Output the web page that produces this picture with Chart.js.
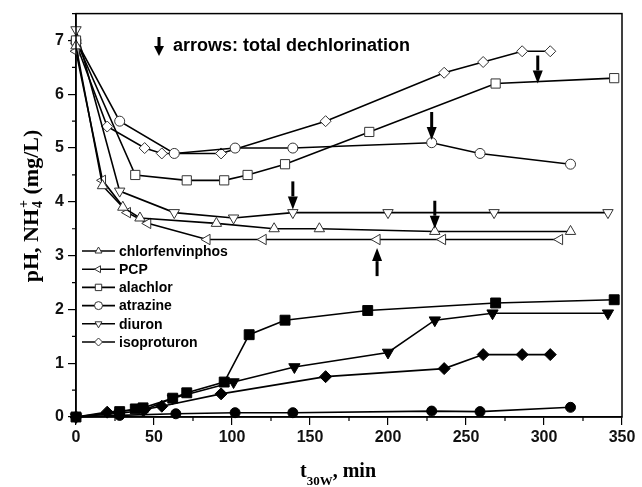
<!DOCTYPE html>
<html>
<head>
<meta charset="utf-8">
<script src="https://cdn.jsdelivr.net/npm/chart.js@4/dist/chart.umd.min.js"></script>
<style>
  html, body { margin: 0; padding: 0; background: #fff; }
  #wrap { width: 642px; height: 487px; }
</style>
</head>
<body>
<div id="wrap"><canvas id="chart" width="642" height="487"></canvas></div>
<script>
// pH, open symbols (time in min)
const chlorfenT = [0, 17, 30, 41, 90, 127, 156, 230, 317];
const chlorfenPH = [6.9, 4.3, 3.9, 3.7, 3.6, 3.5, 3.5, 3.45, 3.45];
const pcpT = [0, 17, 33, 46, 84, 120, 193, 235, 310];
const pcpPH = [6.8, 4.4, 3.8, 3.6, 3.3, 3.3, 3.3, 3.3, 3.3];
const alachlorT = [0, 38, 71, 95, 110, 134, 188, 269, 345];
const alachlorPH = [7.0, 4.5, 4.4, 4.4, 4.5, 4.7, 5.3, 6.2, 6.3];
const atrazineT = [0, 28, 63, 102, 139, 228, 259, 317];
const atrazinePH = [7.0, 5.5, 4.9, 5.0, 5.0, 5.1, 4.9, 4.7];
const diuronT = [0, 28, 63, 101, 139, 200, 268, 341];
const diuronPH = [7.2, 4.2, 3.8, 3.7, 3.8, 3.8, 3.8, 3.8];
const isoprotT = [0, 20, 44, 55, 93, 160, 236, 261, 286, 304];
const isoprotPH = [6.95, 5.4, 5.0, 4.9, 4.9, 5.5, 6.4, 6.6, 6.8, 6.8];

// NH4+ (mg/L), filled symbols
const alachlorNT = [0, 28, 38, 43, 62, 71, 95, 111, 134, 187, 269, 345];
const alachlorNH4 = [0, 0.1, 0.15, 0.17, 0.35, 0.45, 0.65, 1.53, 1.8, 1.98, 2.12, 2.18];
const diuronNT = [0, 28, 43, 62, 101, 140, 200, 230, 267, 341];
const diuronNH4 = [0, 0.07, 0.12, 0.35, 0.65, 0.93, 1.2, 1.8, 1.93, 1.93];
const isoprotNT = [0, 20, 44, 55, 93, 160, 236, 261, 286, 304];
const isoprotNH4 = [0, 0.09, 0.14, 0.2, 0.43, 0.75, 0.9, 1.16, 1.16, 1.16];
const atrazineNT = [0, 28, 64, 102, 139, 228, 259, 317];
const atrazineNH4 = [0, 0.03, 0.06, 0.08, 0.08, 0.11, 0.1, 0.18];

// total dechlorination arrows: time, value at the tip, direction
const arrowT = [296, 228, 139, 230, 193];
const arrowTip = [6.2, 5.15, 3.86, 3.5, 3.14];
const arrowUp = [false, false, false, false, true];

const xTicks = [0, 50, 100, 150, 200, 250, 300, 350];
const yTicks = [0, 1, 2, 3, 4, 5, 6, 7];

const legendNames = ['chlorfenvinphos', 'PCP', 'alachlor', 'atrazine', 'diuron', 'isoproturon'];

const SANS = '"Liberation Sans", Arial, sans-serif';
const SERIF = '"Liberation Serif", "Times New Roman", serif';

function pts(t, v) {
  return t.map((x, i) => ({ x: x, y: v[i] }));
}

function series(label, t, v, style, radius, rot, filled) {
  return {
    label: label,
    data: pts(t, v),
    showLine: true,
    borderColor: '#000',
    borderWidth: 1.6,
    pointStyle: style,
    pointRadius: radius,
    pointHoverRadius: radius,
    pointRotation: rot,
    pointBorderWidth: 1,
    pointBorderColor: filled ? '#000' : '#333',
    pointBackgroundColor: filled ? '#000' : '#fff',
    clip: false
  };
}

const datasets = [
  series('chlorfenvinphos', chlorfenT, chlorfenPH, 'triangle', 6, 0, false),
  series('PCP', pcpT, pcpPH, 'triangle', 6, 270, false),
  series('alachlor', alachlorT, alachlorPH, 'rect', 6.5, 0, false),
  series('atrazine', atrazineT, atrazinePH, 'circle', 5, 0, false),
  series('diuron', diuronT, diuronPH, 'triangle', 6, 180, false),
  series('isoproturon', isoprotT, isoprotPH, 'rectRot', 5.5, 0, false),
  series('alachlor NH4', alachlorNT, alachlorNH4, 'rect', 7, 0, true),
  series('diuron NH4', diuronNT, diuronNH4, 'triangle', 6.5, 180, true),
  series('isoproturon NH4', isoprotNT, isoprotNH4, 'rectRot', 6, 0, true),
  series('atrazine NH4', atrazineNT, atrazineNH4, 'circle', 5, 0, true)
];

// small legend marker
function marker(ctx, style, rot, x, y, r) {
  ctx.beginPath();
  if (style === 'circle') {
    ctx.arc(x, y, r, 0, Math.PI * 2);
  } else if (style === 'rect') {
    ctx.rect(x - r * 0.8, y - r * 0.8, r * 1.6, r * 1.6);
  } else if (style === 'rectRot') {
    ctx.moveTo(x, y - r); ctx.lineTo(x + r, y); ctx.lineTo(x, y + r); ctx.lineTo(x - r, y);
    ctx.closePath();
  } else {
    const a0 = (rot - 90) * Math.PI / 180;
    for (let k = 0; k < 3; k++) {
      const a = a0 + k * 2 * Math.PI / 3;
      const px = x + r * Math.cos(a), py = y + r * Math.sin(a);
      if (k === 0) ctx.moveTo(px, py); else ctx.lineTo(px, py);
    }
    ctx.closePath();
  }
  ctx.fill();
  ctx.stroke();
}

function arrow(ctx, x, tipY, up, len, head) {
  const dir = up ? 1 : -1; // tail lies above the tip for down arrows
  const tail = tipY + dir * len;
  const base = tipY + dir * head;
  ctx.beginPath();
  ctx.moveTo(x, tail);
  ctx.lineTo(x, base);
  ctx.lineWidth = 3;
  ctx.stroke();
  ctx.beginPath();
  ctx.moveTo(x, tipY);
  ctx.lineTo(x - 5, base);
  ctx.lineTo(x + 5, base);
  ctx.closePath();
  ctx.fill();
}

const decor = {
  id: 'decor',
  afterDraw(chart) {
    const ctx = chart.ctx;
    const a = chart.chartArea;
    const xs = chart.scales.x, ys = chart.scales.y;
    ctx.save();

    // frame
    ctx.strokeStyle = '#000';
    ctx.lineWidth = 1.5;
    ctx.strokeRect(a.left, a.top, a.right - a.left, a.bottom - a.top);

    // minor ticks
    ctx.lineWidth = 1.2;
    ctx.beginPath();
    for (let i = 0; i < xTicks.length - 1; i++) {
      const px = xs.getPixelForValue((xTicks[i] + xTicks[i + 1]) / 2);
      ctx.moveTo(px, a.bottom); ctx.lineTo(px, a.bottom + 4);
    }
    for (let i = 0; i < yTicks.length; i++) {
      const py = ys.getPixelForValue(yTicks[i] + 0.5);
      ctx.moveTo(a.left, py); ctx.lineTo(a.left - 4, py);
    }
    ctx.stroke();

    // dechlorination arrows
    ctx.fillStyle = '#000';
    ctx.strokeStyle = '#000';
    arrowT.forEach((t, i) => {
      arrow(ctx, xs.getPixelForValue(t), ys.getPixelForValue(arrowTip[i]), arrowUp[i], 28, 13);
    });
    arrow(ctx, 159, 56, false, 19, 10);
    ctx.font = 'bold 18px ' + SANS;
    ctx.textBaseline = 'alphabetic';
    ctx.textAlign = 'left';
    ctx.fillText('arrows: total dechlorination', 173, 51);

    // legend for the pH series
    ctx.font = 'bold 14px ' + SANS;
    ctx.textBaseline = 'middle';
    legendNames.forEach((name, i) => {
      const ds = chart.data.datasets[i];
      const y = 251 + i * 18.2;
      ctx.strokeStyle = '#000';
      ctx.lineWidth = 1.6;
      ctx.beginPath(); ctx.moveTo(82, y); ctx.lineTo(115, y); ctx.stroke();
      ctx.fillStyle = '#fff';
      ctx.strokeStyle = '#333';
      ctx.lineWidth = 1;
      marker(ctx, ds.pointStyle, ds.pointRotation, 98.5, y, 4);
      ctx.fillStyle = '#000';
      ctx.fillText(name, 119, y + 1);
    });

    // y axis title: pH, NH4+ (mg/L)
    ctx.textBaseline = 'alphabetic';
    ctx.save();
    ctx.translate(38, 206);
    ctx.rotate(-Math.PI / 2);
    const yBig = 'bold 22px ' + SERIF, ySmall = 'bold 14px ' + SERIF;
    ctx.font = yBig;
    const w1 = ctx.measureText('pH, NH').width;
    const w3 = ctx.measureText(' (mg/L)').width;
    ctx.font = ySmall;
    const w2 = Math.max(ctx.measureText('+').width, ctx.measureText('4').width) + 1;
    const x0 = -(w1 + w2 + w3) / 2;
    ctx.font = yBig;
    ctx.fillText('pH, NH', x0, 0);
    ctx.font = ySmall;
    ctx.fillText('+', x0 + w1 + 1, -10);
    ctx.fillText('4', x0 + w1 + 1, 4);
    ctx.font = yBig;
    ctx.fillText(' (mg/L)', x0 + w1 + w2, 0);
    ctx.restore();

    // x axis title: t30W, min
    const big = 'bold 20px ' + SERIF, small = 'bold 13px ' + SERIF;
    ctx.font = big;
    const tw = ctx.measureText('t').width;
    const mw = ctx.measureText(', min').width;
    ctx.font = small;
    const sw = ctx.measureText('30W').width;
    let xt = 338 - (tw + sw + mw) / 2;
    ctx.font = big;
    ctx.fillText('t', xt, 477);
    ctx.font = small;
    ctx.fillText('30W', xt + tw, 485);
    ctx.font = big;
    ctx.fillText(', min', xt + tw + sw, 477);

    ctx.restore();
  }
};

new Chart(document.getElementById('chart'), {
  type: 'scatter',
  data: { datasets: datasets },
  options: {
    responsive: false,
    animation: false,
    layout: { padding: { top: 12, right: 20, left: 0, bottom: 0 } },
    plugins: {
      legend: { display: false },
      tooltip: { enabled: false }
    },
    scales: {
      x: {
        type: 'linear',
        min: 0,
        max: 350,
        afterFit: s => { s.height = 70; },
        afterBuildTicks: s => { s.ticks = xTicks.map(v => ({ value: v })); },
        grid: { drawOnChartArea: false, color: '#000', tickLength: 8, lineWidth: 1.2 },
        border: { color: '#000', width: 1.5 },
        ticks: { color: '#111', padding: 3, font: { family: SANS, size: 16, weight: 'bold' } }
      },
      y: {
        min: 0,
        max: 7.5,
        afterFit: s => { s.width = 76; },
        afterBuildTicks: s => { s.ticks = yTicks.map(v => ({ value: v })); },
        grid: { drawOnChartArea: false, color: '#000', tickLength: 8, lineWidth: 1.2 },
        border: { color: '#000', width: 1.5 },
        ticks: { color: '#111', padding: 4, font: { family: SANS, size: 16, weight: 'bold' } }
      }
    }
  },
  plugins: [decor]
});
</script>
</body>
</html>
